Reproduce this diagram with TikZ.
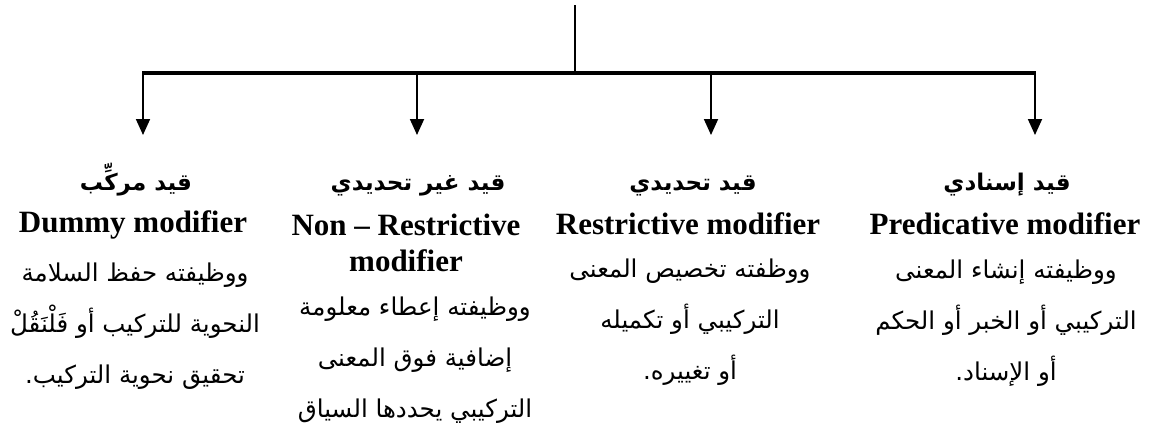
\documentclass[tikz,border=0pt]{standalone}
\usepackage{fontspec}
\setmainfont{Liberation Serif}
\newfontfamily\arabicfont[Script=Arabic]{DejaVu Sans}
\TeXXeTstate=1
\usetikzlibrary{arrows.meta}
\begin{document}
\begin{tikzpicture}[x=1pt,y=-1pt,
  bar/.style={line width=3.2pt},
  stem/.style={line width=1.8pt},
  arr/.style={line width=1.8pt,-{Triangle[width=14pt,length=16pt]}},
  artitle/.style={font=\arabicfont\bfseries\fontsize{23}{28}\selectfont, anchor=base},
  entitle/.style={font=\bfseries\fontsize{31}{36}\selectfont, align=center},
  arbody/.style={font=\arabicfont\fontsize{24.5}{51}\selectfont, align=center},
  inner sep=0pt]
\useasboundingbox (0,0) rectangle (1154,434);
\coordinate (top) at (575,5);
\coordinate (hub) at (575,73);
\coordinate (j1) at (143,73);
\coordinate (j2) at (417,73);
\coordinate (j3) at (711,73);
\coordinate (j4) at (1035,73);
\coordinate (a1) at (143,135);
\coordinate (a2) at (417,135);
\coordinate (a3) at (711,135);
\coordinate (a4) at (1035,135);
\draw[stem] (top) -- (hub);
\draw[bar] ([xshift=-0.9pt]j1) -- ([xshift=0.9pt]j4);
\draw[arr] (j1) -- (a1);
\draw[arr] (j2) -- (a2);
\draw[arr] (j3) -- (a3);
\draw[arr] (j4) -- (a4);
% column 4
\node[artitle] (t4) at (1007,190) {\beginR قيد إسنادي\endR};
\node[entitle] (e4) at (1005,224) {Predicative modifier};
\node[arbody] (b4) at (1006,323) {\beginR ووظيفته إنشاء المعنى\endR\\ \beginR التركيبي أو  الخبر أو الحكم\endR\\ \beginR أو الإسناد.\endR};
% column 3
\node[artitle] (t3) at (693,190) {\beginR قيد تحديدي\endR};
\node[entitle] (e3) at (688,224) {Restrictive modifier};
\node[arbody] (b3) at (690,322) {\beginR ووظفته تخصيص المعنى\endR\\ \beginR التركيبي أو تكميله\endR\\ \beginR أو تغييره.\endR};
% column 2
\node[artitle] (t2) at (418,190) {\beginR قيد غير تحديدي\endR};
\node[entitle] (e2) at (406,243) {Non – Restrictive\\modifier};
\node[arbody] (b2) at (415,360) {\beginR ووظيفته إعطاء معلومة\endR\\ \beginR إضافية فوق المعنى\endR\\ \beginR التركيبي يحددها السياق\endR};
% column 1
\node[artitle] (t1) at (136,190) {\beginR قيد مركِّب\endR};
\node[entitle] (e1) at (133,225) {Dummy modifier};
\node[arbody] (b1) at (135,326) {\beginR ووظيفته حفظ السلامة\endR\\ \beginR النحوية للتركيب أو فَلْنَقُلْ\endR\\ \beginR تحقيق نحوية التركيب.\endR};
\end{tikzpicture}
\end{document}
